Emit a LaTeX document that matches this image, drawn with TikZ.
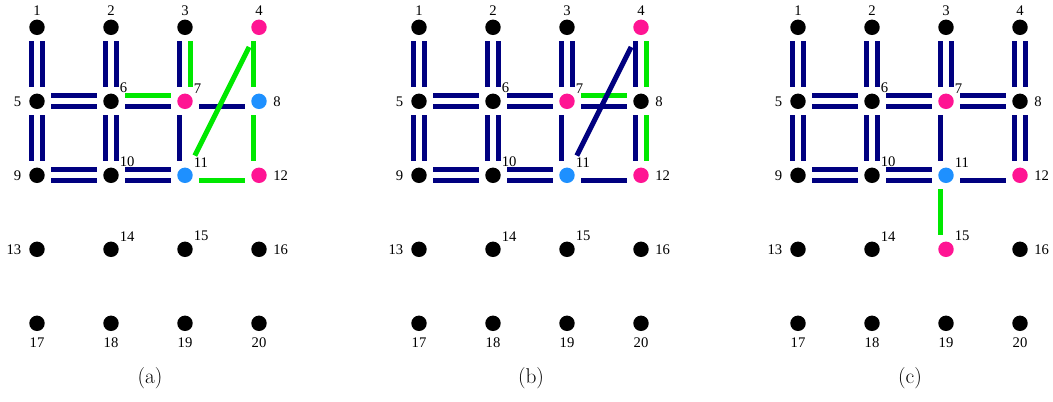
\documentclass[tikz,border=0pt]{standalone}
\usepackage{fontspec}
\newfontfamily\labfont{Liberation Serif}
\usetikzlibrary{calc}
\definecolor{nv}{RGB}{0,0,128}
\definecolor{gr}{RGB}{0,232,0}
\definecolor{mg}{RGB}{255,20,147}
\definecolor{bl}{RGB}{30,144,255}
\tikzset{
  dotnode/.style={circle, inner sep=0pt, minimum size=11.6pt, draw=none},
  lab/.style={font=\labfont\fontsize{11}{13}\selectfont, inner sep=0pt},
  lnk/.style={line width=3.8pt, shorten <=10.5pt, shorten >=10.5pt},
  captext/.style={font=\fontsize{16}{19}\selectfont, inner sep=0pt}
}
\newcommand\strand[4]{\draw[lnk,draw=#1] ($(#2)!#4!90:(#3)$) -- ($(#3)!#4!-90:(#2)$);}
\newcommand\dbl[2]{\strand{nv}{#1}{#2}{4.15pt}\strand{nv}{#1}{#2}{-4.15pt}}
\newcommand\setcol[2]{\expandafter\def\csname nc-#1\endcsname{#2}}
\setcol{a4}{mg}\setcol{a7}{mg}\setcol{a8}{bl}\setcol{a11}{bl}\setcol{a12}{mg}
\setcol{b4}{mg}\setcol{b7}{mg}\setcol{b11}{bl}\setcol{b12}{mg}
\setcol{c7}{mg}\setcol{c11}{bl}\setcol{c12}{mg}\setcol{c15}{mg}
\begin{document}
\begin{tikzpicture}[x=0.75pt,y=-0.75pt]
\useasboundingbox (0,0) rectangle (1053,401);
\foreach \p/\xo in {a/37, b/419, c/798} {
  \foreach \i/\c/\r/\an/\dx/\dy in {1/0/0/south/0/-11.5, 2/1/0/south/0/-11.5, 3/2/0/south/0/-11.5, 4/3/0/south/0/-11.5,
      5/0/1/east/-15.5/0, 6/1/1/south west/8.5/-8, 7/2/1/south west/8.5/-8, 8/3/1/west/14/0,
      9/0/2/east/-15.5/0, 10/1/2/south west/8.5/-8, 11/2/2/south west/8.5/-8, 12/3/2/west/14/0,
      13/0/3/east/-15.5/0, 14/1/3/south west/8.5/-8, 15/2/3/south west/8.5/-8, 16/3/3/west/14/0,
      17/0/4/north/0/14.5, 18/1/4/north/0/14.5, 19/2/4/north/0/14.5, 20/3/4/north/0/14.5} {
    \edef\fc{\ifcsname nc-\p\i\endcsname\csname nc-\p\i\endcsname\else black\fi}
    \node[dotnode, fill=\fc] (\p\i) at (\xo+74*\c, 27.3+74*\r) {};
    \node[lab, anchor=\an] (l\p\i) at ($(\p\i)+(\dx,\dy)$) {\i};
  }
}
% panel (a)
\dbl{a1}{a5}\dbl{a2}{a6}
\strand{nv}{a3}{a7}{-4.15pt}\strand{gr}{a3}{a7}{4.15pt}
\dbl{a5}{a6}
\strand{gr}{a6}{a7}{4.15pt}\strand{nv}{a6}{a7}{-4.15pt}
\strand{nv}{a7}{a8}{-4.15pt}
\strand{gr}{a4}{a8}{-4.15pt}
\dbl{a5}{a9}\dbl{a6}{a10}
\strand{nv}{a7}{a11}{-4.15pt}
\strand{gr}{a8}{a12}{-4.15pt}
\dbl{a9}{a10}\dbl{a10}{a11}
\strand{gr}{a11}{a12}{-4.15pt}
\draw[lnk,draw=gr] (a4) -- (a11);
% panel (b)
\dbl{b1}{b5}\dbl{b2}{b6}\dbl{b3}{b7}
\strand{nv}{b4}{b8}{-4.15pt}\strand{gr}{b4}{b8}{4.15pt}
\dbl{b5}{b6}\dbl{b6}{b7}
\strand{gr}{b7}{b8}{4.15pt}\strand{nv}{b7}{b8}{-4.15pt}
\dbl{b5}{b9}\dbl{b6}{b10}
\strand{nv}{b7}{b11}{-4.15pt}
\strand{nv}{b8}{b12}{-4.15pt}\strand{gr}{b8}{b12}{4.15pt}
\dbl{b9}{b10}\dbl{b10}{b11}
\strand{nv}{b11}{b12}{-4.15pt}
\draw[lnk,draw=nv] (b4) -- (b11);
% panel (c)
\dbl{c1}{c5}\dbl{c2}{c6}\dbl{c3}{c7}\dbl{c4}{c8}
\dbl{c5}{c6}\dbl{c6}{c7}\dbl{c7}{c8}
\dbl{c5}{c9}\dbl{c6}{c10}\dbl{c8}{c12}
\strand{nv}{c7}{c11}{-4.15pt}
\dbl{c9}{c10}\dbl{c10}{c11}
\strand{nv}{c11}{c12}{-4.15pt}
\strand{gr}{c11}{c15}{-4.15pt}
% captions
\node[captext] (capa) at (150,378) {(a)};
\node[captext] (capb) at (531,378) {(b)};
\node[captext] (capc) at (910,378) {(c)};
\end{tikzpicture}
\end{document}
